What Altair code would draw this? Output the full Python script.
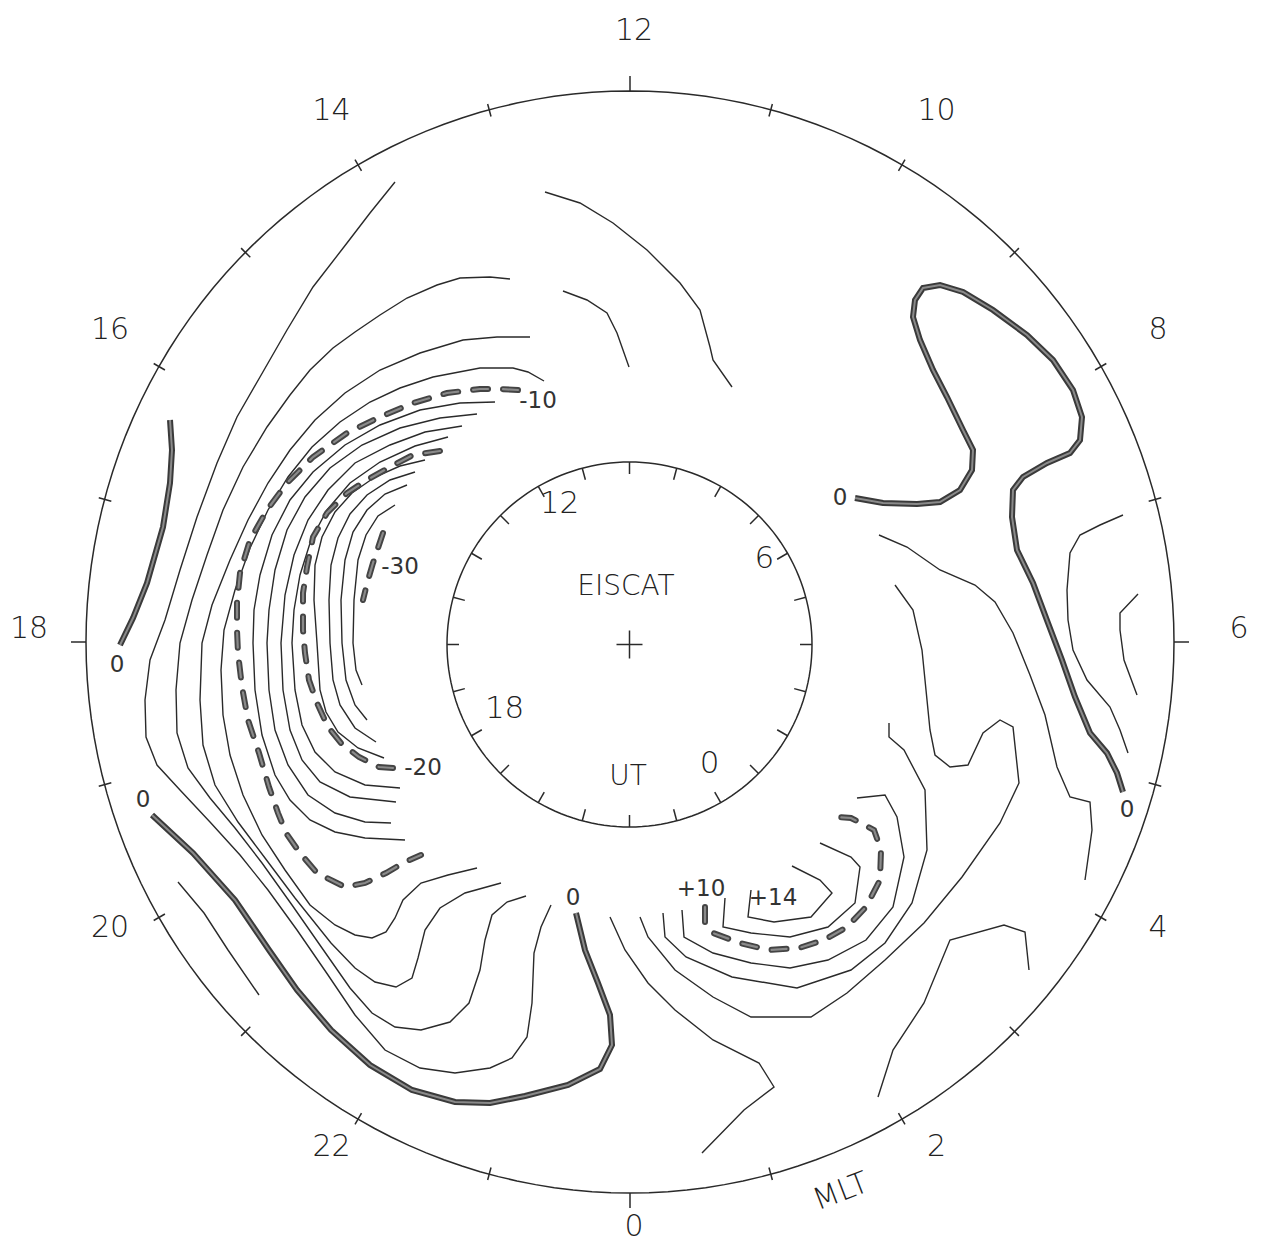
import altair as alt
import numpy as np
import pandas as pd

# ---------------------------------------------------------------------------
# Digitised contour lines (chart coordinates read off the figure, y downward);
# the pole (centre of the MLT dial) is at POLE_X, POLE_Y.
# ---------------------------------------------------------------------------
POLE_X, POLE_Y = 630, 642

thin_lines = {
    "L1": [(395,182),(370,213),(347,243),(313,287),(287,330),(260,377),(237,417),(217,463),(197,517),(180,570),(165,620),(150,660),(145,700),(146,737),(157,765),(180,790),(210,822),(240,855),(268,890),(297,930),(328,975),(355,1015),(385,1050),(420,1068),(455,1073),(490,1068),(512,1058),(527,1037),(532,1003),(534,953),(541,927),(551,905)],
    "C1": [(510,279),(490,277),(460,278),(437,285),(407,298),(380,315),(355,332),(333,348),(310,370),(290,395),(267,427),(243,467),(223,510),(207,555),(192,600),(180,643),(176,690),(177,733),(188,768),(210,798),(235,828),(262,863),(292,905),(322,948),(350,988),(372,1013),(395,1027),(421,1030),(450,1022),(469,1003),(480,970),(485,940),(492,915),(507,902),(526,896)],
    "C2": [(530,337),(497,337),(463,340),(420,353),(380,370),(345,393),(315,420),(290,450),(268,483),(248,520),(230,560),(212,605),(202,643),(200,700),(203,745),(215,785),(238,822),(265,858),(295,898),(331,943),(355,968),(375,982),(396,987),(412,978),(418,958),(425,930),(440,908),(465,893),(501,883)],
    "C3": [(544,381),(528,372),(513,368),(480,368),(433,377),(400,388),(370,402),(340,422),(312,447),(288,477),(268,510),(250,548),(235,590),(224,630),(221,670),(223,715),(230,755),(243,795),(262,835),(285,870),(310,905),(335,925),(355,935),(372,938),(386,932),(395,918),(403,900),(421,883),(448,875),(477,868)],
    "C4": [(495,402),(460,403),(420,410),(380,425),(345,445),(313,472),(290,500),(272,535),(260,575),(254,610),(253,643),(255,690),(262,735),(275,775),(290,800),(310,820),(335,832),(365,838),(405,840)],
    "C5": [(477,414),(440,418),(400,428),(362,445),(330,468),(305,497),(287,530),(275,570),(269,610),(267,643),(269,690),(275,730),(288,765),(308,795),(335,813),(365,822),(391,823)],
    "C6": [(462,426),(425,432),(390,445),(355,463),(328,490),(308,520),(294,555),(285,595),(281,643),(283,690),(290,730),(302,760),(320,782),(350,797),(396,802)],
    "C7": [(448,437),(415,446),(380,462),(350,483),(327,510),(311,540),(300,575),(294,610),(292,643),(295,690),(302,725),(315,752),(335,772),(365,785),(400,788)],
    "C8": [(425,460),(400,466),(375,477),(352,493),(335,512),(322,537),(315,565),(314,600),(317,643),(320,690),(326,712),(338,732),(358,748),(384,758)],
    "C9": [(415,472),(390,480),(367,495),(350,514),(338,538),(331,565),(329,600),(330,643),(333,680),(340,705),(355,728),(376,742)],
    "C10": [(407,485),(385,494),(367,510),(353,532),(345,560),(341,600),(342,643),(346,680),(355,705),(367,720)],
    "C11": [(395,505),(378,516),(366,535),(358,560),(354,600),(353,643),(356,670),(362,685)],
    "S1": [(178,882),(204,913),(228,950),(259,995)],
    "T1": [(545,192),(580,203),(613,223),(647,250),(680,283),(700,310),(710,347),(713,360),(732,387)],
    "T2": [(563,291),(587,300),(607,313),(617,333),(629,367)],
    "M1": [(879,535),(907,547),(940,570),(975,585),(995,602),(1013,633),(1030,675),(1045,715),(1057,767),(1070,797),(1090,802),(1092,830),(1085,880)],
    "M2": [(895,585),(913,610),(922,650),(926,690),(930,730),(935,755),(950,767),(968,765),(983,733),(1000,720),(1013,727),(1019,783),(1000,823),(962,877),(924,923),(885,960),(847,993),(811,1017),(751,1017),(713,997),(675,970),(648,937),(640,917)],
    "B1": [(610,917),(625,950),(648,983),(675,1010),(713,1040),(759,1063),(774,1087),(744,1110),(702,1153)],
    "E1": [(663,913),(665,937),(686,957),(732,977),(797,988),(851,970),(885,943),(912,903),(927,850),(925,790),(904,750),(889,737),(889,723)],
    "F1": [(682,910),(684,937),(713,953),(751,963),(790,968),(828,960),(866,940),(893,907),(904,857),(897,817),(885,795),(857,798)],
    "G1": [(725,898),(723,927),(751,933),(790,937),(828,927),(855,903),(860,867),(851,857),(820,843)],
    "H1": [(751,890),(748,917),(774,922),(811,917),(832,893),(820,880),(792,866)],
    "P1": [(878,1097),(893,1050),(924,1003),(950,940),(1004,925),(1025,932),(1029,970)],
    "R1": [(1123,515),(1100,525),(1080,535),(1070,553),(1067,590),(1068,620),(1073,650),(1087,680),(1110,707),(1120,730),(1128,753)],
    "R2": [(1138,594),(1120,613),(1120,630),(1124,660),(1137,695)],
}

zero_lines = {
    "K1": [(170,420),(172,450),(170,483),(163,527),(147,583),(133,618),(120,645)],
    "K2": [(152,815),(193,853),(235,900),(269,950),(297,990),(331,1030),(370,1065),(412,1090),(455,1102),(490,1103),(525,1096),(568,1085),(600,1069),(612,1045),(610,1015),(598,983),(585,950),(576,913)],
    "K3": [(855,498),(883,503),(917,504),(940,502),(960,490),(972,470),(973,450),(963,430),(947,397),(933,370),(920,340),(913,317),(915,300),(923,288),(940,285),(963,292),(993,310),(1027,335),(1053,360),(1073,390),(1082,417),(1080,440),(1070,453),(1047,463),(1023,477),(1013,490),(1012,517),(1017,550),(1033,583),(1048,623),(1062,660),(1075,697),(1090,733),(1107,753),(1117,773),(1123,792)],
}

dashed_lines = {
    "D1": [(518,390),(500,389),(480,389),(447,393),(413,403),(380,417),(347,433),(313,457),(287,483),(267,510),(250,540),(240,573),(237,603),(237,630),(238,653),(242,687),(248,720),(259,753),(269,787),(278,813),(286,833),(300,853),(317,873),(345,887),(365,883),(386,873),(405,862),(421,855)],
    "D2": [(440,451),(413,455),(390,467),(367,480),(347,493),(327,513),(313,537),(307,567),(303,593),(303,630),(305,653),(309,680),(317,703),(328,727),(341,743),(359,757),(379,767),(393,768)],
    "D3": [(383,533),(378,548),(373,563),(368,580),(363,600)],
    "D10": [(705,907),(705,923),(713,933),(740,943),(769,950),(799,948),(824,940),(847,927),(866,907),(880,880),(881,850),(874,830),(851,818),(836,817)],
}

contour_label_text = ["0", "0", "0", "0", "0", "-10", "-20", "-30", "+10", "+14"]
contour_label_x = [117, 143, 573, 840, 1127, 538, 423, 400, 701, 773]
contour_label_y = [665, 800, 898, 498, 810, 401, 768, 567, 889, 898]

mlt_tick_hours = list(range(24))
mlt_label_hours = [0, 2, 4, 6, 8, 10, 12, 14, 16, 18, 20, 22]
ut_tick_hours = list(range(24))
ut_label_hours = [0, 6, 12, 18]
UT_TO_MLT = 2  # UT dial rotated by about two hours

# dial geometry
RIM_RX, RIM_RY = 544, 551
INNER_R = 182.5
INNER_CX, INNER_CY = -0.5, -2.5


def lines_df(groups):
    rows = []
    for name, pts in groups.items():
        for i, (px, py) in enumerate(pts):
            rows.append({"id": name, "i": i, "x": px - POLE_X, "y": POLE_Y - py})
    return pd.DataFrame(rows)


thin_df = lines_df(thin_lines)
zero_df = lines_df(zero_lines)
dash_df = lines_df(dashed_lines)

ang = np.arange(0, 362, 2)
rad = np.radians(ang)
frame_df = pd.concat([
    pd.DataFrame({"id": "outer", "i": ang, "x": RIM_RX * np.sin(rad), "y": RIM_RY * np.cos(rad)}),
    pd.DataFrame({"id": "inner", "i": ang, "x": INNER_CX + INNER_R * np.sin(rad),
                  "y": INNER_CY + INNER_R * np.cos(rad)}),
])

# ticks
tick_rows = []
for h in mlt_tick_hours:
    t = np.radians((h - 12) * 15)
    s, c = -np.sin(t), np.cos(t)
    if h % 6 == 0:
        r1, r2 = 0, 15
    else:
        r1, r2 = -7, 6
    tick_rows.append({"x": (RIM_RX + r1) * s, "y": (RIM_RY + r1) * c,
                      "x2": (RIM_RX + r2) * s, "y2": (RIM_RY + r2) * c})
for h in ut_tick_hours:
    t = np.radians((h - 12) * 15)
    s, c = -np.sin(t), np.cos(t)
    tick_rows.append({"x": INNER_CX + INNER_R * s, "y": INNER_CY + INNER_R * c,
                      "x2": INNER_CX + (INNER_R - 12) * s, "y2": INNER_CY + (INNER_R - 12) * c})
# centre cross
tick_rows.append({"x": INNER_CX - 13, "y": INNER_CY, "x2": INNER_CX + 13, "y2": INNER_CY})
tick_rows.append({"x": INNER_CX, "y": INNER_CY - 14, "x2": INNER_CX, "y2": INNER_CY + 14})
tick_df = pd.DataFrame(tick_rows)

# dial labels
lab_rows = []
for h in mlt_label_hours:
    t = np.radians((h - 12) * 15)
    lab_rows.append({"x": 4 - 605 * np.sin(t), "y": 13 + 598 * np.cos(t), "text": str(h)})
mlt_lab_df = pd.DataFrame(lab_rows)
lab_rows = []
for h in ut_label_hours:
    t = np.radians((h + UT_TO_MLT - 12) * 15)
    lab_rows.append({"x": 4.5 - 150 * np.sin(t), "y": 8 + 150 * np.cos(t), "text": str(h)})
ut_lab_df = pd.DataFrame(lab_rows)

clab_df = pd.DataFrame({"text": contour_label_text,
                        "x": [v - POLE_X for v in contour_label_x],
                        "y": [POLE_Y - v for v in contour_label_y]})

title_df = pd.DataFrame({"text": ["EISCAT", "UT"], "x": [-4, -2], "y": [55, -135]})
mlt_df = pd.DataFrame({"text": ["MLT"], "x": [211], "y": [-550]})

XS = alt.Scale(domain=[-622, 628], nice=False, zero=False)
YS = alt.Scale(domain=[-604, 634], nice=False, zero=False)
X = alt.X("x:Q", scale=XS, axis=None)
Y = alt.Y("y:Q", scale=YS, axis=None)

FONT = "DejaVu Sans"
INK = "#2a2a2a"
TXT = "#222222"

frame = alt.Chart(frame_df).mark_line(color=INK, strokeWidth=1.5).encode(
    x=X, y=Y, detail="id:N", order="i:Q")
ticks = alt.Chart(tick_df).mark_rule(color=INK, strokeWidth=1.5).encode(
    x=X, y=Y, x2="x2:Q", y2="y2:Q")
thin = alt.Chart(thin_df).mark_line(color=INK, strokeWidth=1.4).encode(
    x=X, y=Y, detail="id:N", order="i:Q")
zero_outer = alt.Chart(zero_df).mark_line(color="#3a3a3a", strokeWidth=6, strokeCap="butt").encode(
    x=X, y=Y, detail="id:N", order="i:Q")
zero_inner = alt.Chart(zero_df).mark_line(color="#8a8a8a", strokeWidth=2).encode(
    x=X, y=Y, detail="id:N", order="i:Q")
dash_outer = alt.Chart(dash_df).mark_line(color="#444444", strokeWidth=6, strokeCap="round",
                                          strokeDash=[15, 15]).encode(
    x=X, y=Y, detail="id:N", order="i:Q")
dash_inner = alt.Chart(dash_df).mark_line(color="#8a8a8a", strokeWidth=2.2, strokeCap="round",
                                          strokeDash=[15, 15]).encode(
    x=X, y=Y, detail="id:N", order="i:Q")

mlt_labels = alt.Chart(mlt_lab_df).mark_text(font=FONT, fontSize=30, fontWeight=200, color=TXT,
                                              align="center", baseline="middle").encode(
    x=X, y=Y, text="text:N")
ut_labels = alt.Chart(ut_lab_df).mark_text(font=FONT, fontSize=31, fontWeight=200, color=TXT,
                                            align="center", baseline="middle").encode(
    x=X, y=Y, text="text:N")
titles = alt.Chart(title_df).mark_text(font=FONT, fontSize=28, fontWeight=200, color=TXT,
                                        align="center", baseline="middle").encode(
    x=X, y=Y, text="text:N")
mlt_title = alt.Chart(mlt_df).mark_text(font=FONT, fontSize=30, fontWeight=200, color=TXT,
                                         align="center", baseline="middle", angle=339).encode(
    x=X, y=Y, text="text:N")
clabels = alt.Chart(clab_df).mark_text(font=FONT, fontSize=23, color="#333333",
                                        align="center", baseline="middle").encode(
    x=X, y=Y, text="text:N")

chart = alt.layer(
    frame, ticks, thin, zero_outer, zero_inner, dash_outer, dash_inner,
    mlt_labels, ut_labels, titles, mlt_title, clabels
).properties(
    width=1250, height=1238, padding=0,
    autosize=alt.AutoSizeParams(type="none"),
    background="white",
).configure_view(stroke=None)

chart.save("out.html", embed_options={"renderer": "svg", "actions": False})
